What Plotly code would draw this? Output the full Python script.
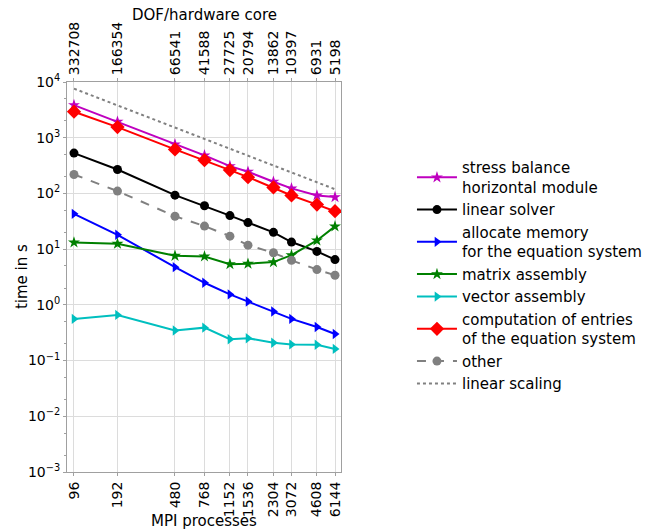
import plotly.graph_objects as go

# MPI process counts (bottom axis) and matching DOF per hardware core (top axis)
processes = [96, 192, 480, 768, 1152, 1536, 2304, 3072, 4608, 6144]
dof_per_core = ["332708", "166354", "66541", "41588", "27725", "20794",
                "13862", "10397", "6931", "5198"]

# wall-clock times in seconds
stress_balance = [3850, 1940, 760, 481, 309, 245, 162, 123, 92, 86]
linear_solver = [529, 269, 93, 60, 40, 30, 20, 13.4, 9.1, 6.5]
allocate_memory = [43, 18.1, 4.75, 2.49, 1.54, 1.15, 0.76, 0.56, 0.40, 0.30]
matrix_assembly = [13.2, 12.5, 7.6, 7.4, 5.37, 5.47, 5.85, 7.8, 14.3, 25.6]
vector_assembly = [0.56, 0.66, 0.347, 0.39, 0.242, 0.252, 0.209, 0.195, 0.192, 0.162]
computation_entries = [2930, 1550, 616, 396, 262, 196, 128, 92, 63, 48]
other = [219, 110, 39, 25.9, 17.1, 11.8, 8.6, 6.3, 4.3, 3.4]
linear_scaling = [7600, 3800, 1520, 950, 633, 475, 317, 238, 158, 119]

y_ticks = [1e-3, 1e-2, 1e-1, 1e0, 1e1, 1e2, 1e3, 1e4]
y_ticktext = ["10<sup>−3</sup>", "10<sup>−2</sup>", "10<sup>−1</sup>", "10<sup>0</sup>",
              "10<sup>1</sup>", "10<sup>2</sup>", "10<sup>3</sup>", "10<sup>4</sup>"]

FONT = "DejaVu Sans"
FS = 15       # titles and legend
TICK_FS = 14  # tick labels

series = [
    ("stress balance<br>horizontal module", stress_balance, "#bf00bf", "star", 9, "solid"),
    ("linear solver", linear_solver, "black", "circle", 9, "solid"),
    ("allocate memory<br>for the equation system", allocate_memory, "blue", "triangle-right", 9, "solid"),
    ("matrix assembly", matrix_assembly, "green", "star", 9, "solid"),
    ("vector assembly", vector_assembly, "#00bfbf", "triangle-right", 9, "solid"),
    ("computation of entries<br>of the equation system", computation_entries, "red", "diamond", 11, "solid"),
    ("other", other, "gray", "circle", 9, "dash"),
]

fig = go.Figure()
for name, vals, color, symbol, size, dash in series:
    fig.add_trace(go.Scatter(
        x=processes, y=vals, name=name, mode="lines+markers",
        line=dict(color=color, width=2, dash=dash),
        marker=dict(symbol=symbol, size=size, color=color),
    ))

fig.add_trace(go.Scatter(
    x=processes, y=linear_scaling, name="linear scaling", mode="lines",
    line=dict(color="gray", width=2, dash="dot"),
))

# invisible trace so the top axis is drawn
fig.add_trace(go.Scatter(
    x=processes, y=linear_scaling, xaxis="x2", mode="lines",
    line=dict(width=0), opacity=0, showlegend=False, hoverinfo="skip",
))

x_range = [1.934, 3.830]
grid = "#dcdcdc"
frame = "#a0a0a0"

fig.update_layout(
    width=656, height=531,
    margin=dict(l=67, r=315, t=82, b=59),
    paper_bgcolor="white", plot_bgcolor="white",
    font=dict(family=FONT, size=FS, color="black"),
    xaxis=dict(
        type="log", range=x_range, automargin=False,
        tickmode="array", tickvals=processes, ticktext=[str(p) for p in processes],
        tickangle=-90, tickfont=dict(size=TICK_FS),
        showgrid=True, gridcolor=grid, gridwidth=1,
        showline=True, linecolor=frame, mirror=False,
        ticks="outside", ticklen=3, tickcolor=frame,
        zeroline=False,
    ),
    xaxis2=dict(
        type="log", range=x_range, overlaying="x", side="top", automargin=False,
        tickmode="array", tickvals=processes, ticktext=dof_per_core,
        tickangle=-90, tickfont=dict(size=TICK_FS), showgrid=False,
        showline=True, linecolor=frame,
        ticks="outside", ticklen=3, tickcolor=frame,
    ),
    yaxis=dict(
        type="log", range=[-3, 4], automargin=False,
        tickmode="array", tickvals=y_ticks, ticktext=y_ticktext,
        tickfont=dict(size=TICK_FS),
        showgrid=True, gridcolor=grid, gridwidth=1,
        showline=True, linecolor=frame, mirror=True,
        ticks="outside", ticklen=3, tickcolor=frame,
        minor=dict(ticks="outside", ticklen=2, tickcolor=frame, showgrid=False),
        zeroline=False,
    ),
    legend=dict(
        xref="container", yref="container", x=0.628, y=0.715,
        xanchor="left", yanchor="top",
        font=dict(size=FS), bgcolor="rgba(0,0,0,0)",
        tracegroupgap=0, itemwidth=40,
    ),
    showlegend=True,
    annotations=[
        dict(text="MPI processes", xref="paper", yref="paper", x=0.5, y=-0.126,
             xanchor="center", yanchor="middle", showarrow=False, font=dict(size=FS)),
        dict(text="DOF/hardware core", xref="paper", yref="paper", x=0.5, y=1.172,
             xanchor="center", yanchor="middle", showarrow=False, font=dict(size=FS)),
        dict(text="time in s", xref="paper", yref="paper", x=-0.164, y=0.5,
             xanchor="center", yanchor="middle", textangle=-90, showarrow=False,
             font=dict(size=FS)),
    ],
)

fig.write_html("out.html")
